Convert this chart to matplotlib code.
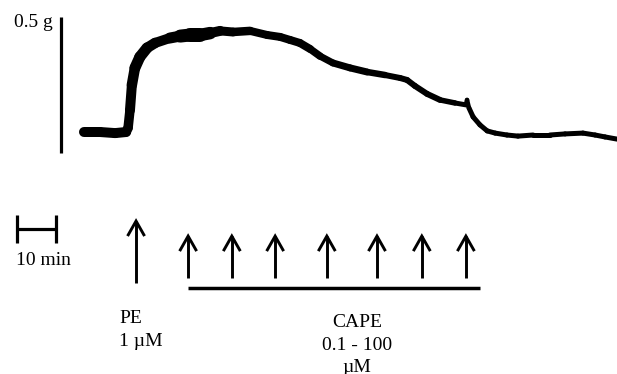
import matplotlib
matplotlib.use("Agg")
import matplotlib.pyplot as plt
from matplotlib.collections import LineCollection
import numpy as np

plt.rcParams['font.family'] = ['Liberation Serif', 'DejaVu Serif']

# isometric tension trace (time in min, tension in g above baseline)
trace_t = [0.0, 4.2, 8.2, 11.1, 11.6, 12.1, 12.6, 13.4, 14.7, 16.6, 18.7, 22.6,
           25.3, 27.9, 30.5, 33.2, 35.8, 39.2, 43.7, 48.2, 51.6, 54.2, 56.8,
           59.5, 62.1, 65.5, 70.0, 74.5, 79.2, 83.2, 85.0, 87.1, 90.3, 93.7,
           97.6, 100.5, 100.8, 101.3, 102.4, 104.2, 106.1, 108.2, 111.3, 114.2,
           118.2, 122.6, 126.6, 131.3, 134.5, 137.1, 140.3]
trace_g = [0.000, 0.000, -0.004, 0.000, 0.015, 0.080, 0.172, 0.234, 0.274, 0.307,
           0.325, 0.343, 0.350, 0.354, 0.354, 0.361, 0.369, 0.365, 0.369, 0.354,
           0.347, 0.336, 0.325, 0.303, 0.277, 0.252, 0.234, 0.219, 0.208, 0.197,
           0.190, 0.168, 0.139, 0.117, 0.106, 0.099, 0.117, 0.088, 0.055, 0.026,
           0.004, -0.004, -0.011, -0.015, -0.011, -0.011, -0.007, -0.004, -0.011,
           -0.018, -0.026]
# apparent thickness (noise band) of the trace, pixels
trace_w = [10, 10, 10, 10, 9, 10, 10, 11, 11, 11, 10, 10, 12, 14, 14, 11, 9, 9, 8, 8, 8,
           8, 8, 8, 7, 7, 7, 7, 6, 6, 6, 6, 6, 6, 5, 5, 4, 5, 5, 5, 5, 5, 5, 5, 5,
           5, 5, 5, 5, 5, 5]

pe_time = 13.7
cape_times = [27.4, 38.9, 50.3, 63.9, 77.1, 88.9, 100.5]
cape_span = (27.4, 104.2)

PX_PER_MIN = 3.8
PX_PER_G = 274.0
FS = 14

fig = plt.figure(figsize=(6.17, 3.74), dpi=100)
ax = fig.add_axes([0, 0, 1, 1])
ax.set_xlim(-84 / PX_PER_MIN, (617 - 84) / PX_PER_MIN)
ax.set_ylim((132 - 374) / PX_PER_G, 132 / PX_PER_G)
ax.axis('off')

# trace
pts = np.column_stack([trace_t, trace_g])
segs = np.stack([pts[:-1], pts[1:]], axis=1)
widths = [0.72 * (a + b) / 2 for a, b in zip(trace_w[:-1], trace_w[1:])]
lc = LineCollection(segs, linewidths=widths, colors='black', capstyle='round',
                    joinstyle='round')
ax.add_collection(lc)

# scale bars
ax.plot([-6.05, -6.05], [-0.077, 0.42], color='black', lw=2.3, solid_capstyle='butt')
ax.text(-8.2, 0.383, '0.5 g', ha='right', va='baseline', fontsize=FS)

ax.plot([-17.6, -7.4], [-0.354, -0.354], color='black', lw=2.3, solid_capstyle='butt')
for x in (-17.6, -7.4):
    ax.plot([x, x], [-0.303, -0.405], color='black', lw=2.3, solid_capstyle='butt')
ax.text(-17.8, -0.485, '10 min', ha='left', va='baseline', fontsize=FS)


def open_arrow(x, y0, y1):
    hw = 8.5 / PX_PER_MIN
    hl = 15 / PX_PER_G
    ax.plot([x, x], [y0, y1], color='black', lw=2.1, solid_capstyle='butt')
    ax.plot([x - hw, x, x + hw], [y1 - hl, y1, y1 - hl], color='black', lw=2.1,
            solid_joinstyle='miter', solid_capstyle='butt')


open_arrow(pe_time, -0.551, -0.325)
for t in cape_times:
    open_arrow(t, -0.533, -0.380)

ax.plot(cape_span, [-0.569, -0.569], color='black', lw=2.5, solid_capstyle='butt')

ax.text(9.3, -0.697, 'PE', ha='left', va='baseline', fontsize=FS)
ax.text(9.3, -0.781, '1 µM', ha='left', va='baseline', fontsize=FS)

cx = 71.8
ax.text(cx, -0.710, 'CAPE', ha='center', va='baseline', fontsize=FS)
ax.text(cx, -0.796, '0.1 - 100', ha='center', va='baseline', fontsize=FS)
ax.text(cx, -0.875, 'µM', ha='center', va='baseline', fontsize=FS)

fig.savefig('out.png', dpi=100)
